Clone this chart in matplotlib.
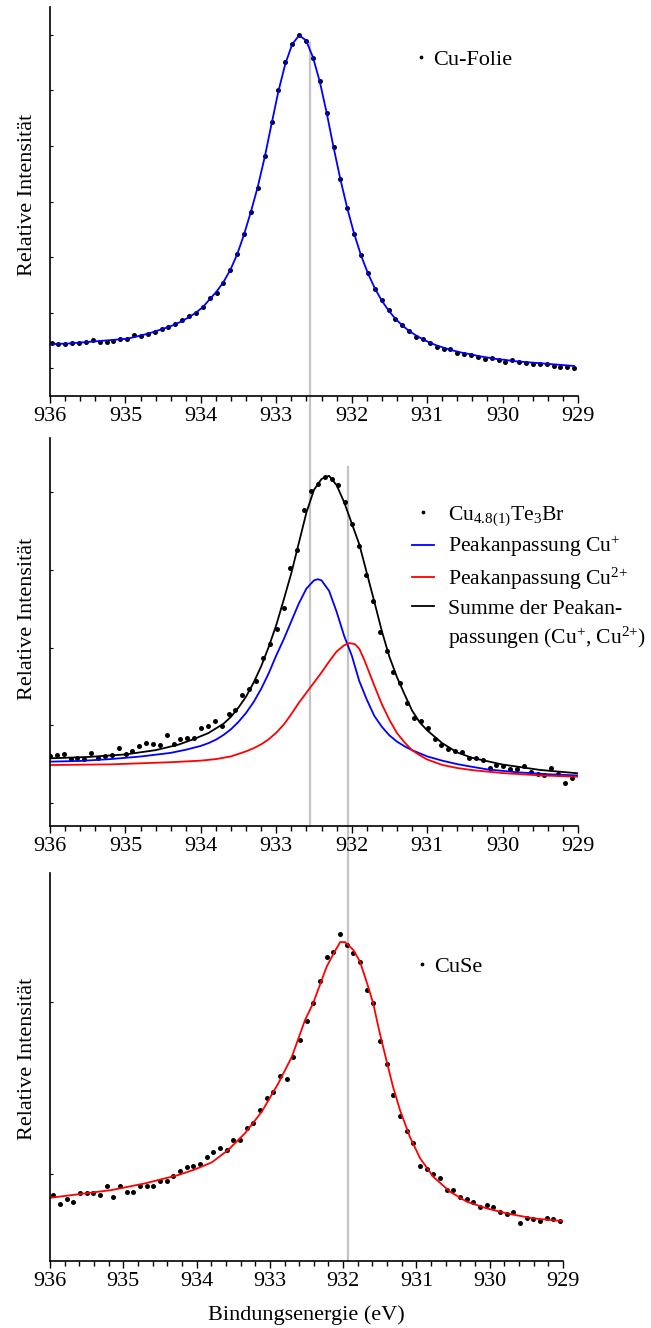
import numpy as np
import matplotlib
matplotlib.use("Agg")
import matplotlib.pyplot as plt
import matplotlib.transforms as mtransforms
from matplotlib.lines import Line2D
from matplotlib.ticker import MultipleLocator, FormatStrFormatter

plt.rcParams.update({
    "font.family": ["Liberation Serif", "DejaVu Serif"],
    "font.size": 16,
    "mathtext.fontset": "custom",
    "mathtext.rm": "Liberation Serif",
    "mathtext.it": "Liberation Serif:italic",
    "mathtext.bf": "Liberation Serif:bold",
})

# ---------------------------------------------------------------- data
# Cu 2p3/2 spectra, binding energy grid (eV) per sample
e_folie = np.linspace(935.98, 929.05, 77)
e_cute = np.linspace(936.00, 929.08, 77)
e_cuse = np.linspace(935.955, 929.04, 77)

# Cu foil: measured intensity and peak fit (a.u.)
i_folie = [1.45, 1.43, 1.43, 1.46, 1.45, 1.47, 1.50, 1.47, 1.47, 1.49,
           1.53, 1.53, 1.59, 1.58, 1.62, 1.65, 1.70, 1.74, 1.79, 1.86,
           1.94, 2.00, 2.10, 2.27, 2.36, 2.54, 2.76, 3.06, 3.41, 3.81,
           4.25, 4.81, 5.43, 6.01, 6.51, 6.83, 6.99, 6.89, 6.59, 6.16,
           5.60, 4.98, 4.40, 3.88, 3.41, 3.03, 2.71, 2.43, 2.23, 2.05,
           1.89, 1.78, 1.67, 1.57, 1.52, 1.46, 1.39, 1.35, 1.34, 1.27,
           1.26, 1.23, 1.20, 1.16, 1.19, 1.14, 1.11, 1.14, 1.11, 1.09,
           1.08, 1.08, 1.08, 1.04, 1.02, 1.02, 1.01]
fit_folie = [1.43, 1.44, 1.44, 1.45, 1.46, 1.47, 1.48, 1.49, 1.50, 1.51,
             1.52, 1.53, 1.56, 1.59, 1.62, 1.66, 1.70, 1.74, 1.79, 1.85,
             1.92, 2.00, 2.10, 2.24, 2.38, 2.55, 2.77, 3.05, 3.41, 3.82,
             4.27, 4.80, 5.40, 5.99, 6.48, 6.83, 6.99, 6.90, 6.60, 6.16,
             5.60, 4.98, 4.40, 3.88, 3.42, 3.03, 2.71, 2.44, 2.22, 2.04,
             1.89, 1.77, 1.67, 1.59, 1.52, 1.46, 1.41, 1.37, 1.33, 1.30,
             1.27, 1.25, 1.22, 1.20, 1.18, 1.16, 1.15, 1.13, 1.12, 1.11,
             1.10, 1.09, 1.08, 1.07, 1.06, 1.05, 1.04]

# Cu4.8(1)Te3Br: measured intensity
i_cute = [1.60, 1.62, 1.63, 1.57, 1.58, 1.56, 1.64, 1.58, 1.60, 1.62,
          1.71, 1.63, 1.67, 1.73, 1.77, 1.76, 1.75, 1.87, 1.76, 1.82,
          1.84, 1.83, 1.96, 1.99, 2.06, 1.99, 2.15, 2.20, 2.39, 2.47,
          2.57, 2.86, 3.05, 3.24, 3.51, 4.02, 4.26, 4.77, 5.01, 5.11,
          5.20, 5.17, 5.09, 4.87, 4.59, 4.31, 3.94, 3.60, 3.20, 2.96,
          2.69, 2.55, 2.29, 2.09, 2.05, 1.97, 1.82, 1.74, 1.69, 1.67,
          1.65, 1.58, 1.58, 1.55, 1.45, 1.49, 1.47, 1.44, 1.44, 1.47,
          1.40, 1.37, 1.36, 1.45, 1.37, 1.26, 1.32]

# Cu4.8(1)Te3Br: fitted components (energy, intensity)
e_fit_cu1 = [936.0, 935.6, 935.2, 934.8, 934.4, 934.2, 934.0, 933.9, 933.8,
             933.7, 933.6, 933.5, 933.4, 933.3, 933.2, 933.1, 933.0, 932.9,
             932.8, 932.7, 932.6, 932.5, 932.45, 932.4, 932.3, 932.2, 932.1,
             932.0, 931.9, 931.8, 931.7, 931.6, 931.5, 931.4, 931.3, 931.2,
             931.0, 930.8, 930.6, 930.4, 930.2, 929.8, 929.4, 929.0]
i_fit_cu1 = [1.532, 1.541, 1.565, 1.598, 1.645, 1.685, 1.735, 1.770, 1.815,
             1.875, 1.950, 2.045, 2.160, 2.300, 2.470, 2.670, 2.900, 3.110,
             3.340, 3.570, 3.760, 3.865, 3.880, 3.865, 3.730, 3.460, 3.150,
             2.900, 2.570, 2.330, 2.120, 1.980, 1.870, 1.790, 1.730, 1.680,
             1.600, 1.545, 1.500, 1.465, 1.432, 1.395, 1.370, 1.354]

e_fit_cu2 = [936.0, 935.2, 934.4, 934.0, 933.8, 933.6, 933.4, 933.3, 933.2,
             933.1, 933.0, 932.9, 932.8, 932.7, 932.6, 932.5, 932.4, 932.3,
             932.2, 932.1, 932.03, 931.96, 931.9, 931.85, 931.8, 931.7, 931.6,
             931.5, 931.4, 931.3, 931.2, 931.1, 931.0, 930.8, 930.6, 930.4,
             930.0, 929.5, 929.0]
i_fit_cu2 = [1.489, 1.497, 1.525, 1.545, 1.565, 1.600, 1.665, 1.705, 1.755,
             1.820, 1.905, 2.010, 2.145, 2.290, 2.420, 2.550, 2.680, 2.820,
             2.950, 3.030, 3.058, 3.045, 2.985, 2.880, 2.760, 2.510, 2.270,
             2.070, 1.900, 1.780, 1.680, 1.615, 1.560, 1.490, 1.450, 1.423,
             1.385, 1.355, 1.338]

e_fit_sum = [936.0, 935.5, 935.0, 934.6, 934.3, 934.1, 933.9, 933.7, 933.6,
             933.5, 933.4, 933.3, 933.2, 933.1, 933.0, 932.9, 932.8, 932.7,
             932.6, 932.5, 932.4, 932.3, 932.2, 932.1, 932.0, 931.9, 931.8,
             931.7, 931.6, 931.5, 931.4, 931.3, 931.2, 931.1, 931.0, 930.8,
             930.6, 930.4, 930.0, 929.5, 929.0]
i_fit_sum = [1.575, 1.592, 1.625, 1.680, 1.750, 1.820, 1.900, 2.020, 2.110,
             2.230, 2.370, 2.550, 2.760, 3.010, 3.290, 3.620, 3.960, 4.350,
             4.740, 5.030, 5.170, 5.210, 5.090, 4.870, 4.600, 4.330, 3.960,
             3.590, 3.210, 2.880, 2.620, 2.400, 2.190, 2.040, 1.935, 1.770,
             1.650, 1.580, 1.495, 1.425, 1.382]

# CuSe: measured intensity and fit
i_cuse = [0.88, 0.83, 0.86, 0.84, 0.89, 0.89, 0.89, 0.88, 0.93, 0.87,
          0.93, 0.90, 0.90, 0.93, 0.93, 0.93, 0.96, 0.96, 0.99, 1.02,
          1.04, 1.05, 1.06, 1.10, 1.13, 1.15, 1.14, 1.20, 1.20, 1.27,
          1.30, 1.37, 1.44, 1.48, 1.57, 1.55, 1.68, 1.78, 1.89, 1.99,
          2.12, 2.26, 2.29, 2.39, 2.33, 2.28, 2.23, 2.07, 1.99, 1.77,
          1.64, 1.46, 1.34, 1.25, 1.18, 1.05, 1.03, 1.00, 0.98, 0.91,
          0.91, 0.87, 0.86, 0.84, 0.81, 0.82, 0.81, 0.78, 0.77, 0.78,
          0.72, 0.75, 0.74, 0.73, 0.75, 0.74, 0.73]
e_fit_cuse = [936.00, 935.16, 934.70, 934.25, 934.02, 933.79, 933.57, 933.34,
              933.11, 932.885, 932.70, 932.52, 932.41, 932.225, 932.13, 932.04,
              931.975, 931.86, 931.77, 931.68, 931.59, 931.50, 931.41, 931.32,
              931.225, 931.09, 930.95, 930.77, 930.54, 930.31, 930.04, 929.77,
              929.41, 929.00]
i_fit_cuse = [0.864, 0.909, 0.948, 0.996, 1.029, 1.070, 1.141, 1.238,
              1.363, 1.527, 1.681, 1.894, 1.991, 2.203, 2.280, 2.346,
              2.346, 2.300, 2.232, 2.116, 1.991, 1.817, 1.662, 1.508,
              1.373, 1.218, 1.093, 0.986, 0.899, 0.841, 0.803, 0.774,
              0.745, 0.729]

# reference binding energies (Cu+ and Cu2+ positions)
e_ref_cu1 = 932.55
e_ref_cu2 = 932.05

label_folie = "Cu-Folie"
label_cute = r"Cu$_\mathregular{4.8(1)}$Te$_\mathregular{3}$Br"
label_cu1 = r"Peakanpassung Cu$^{+}$"
label_cu2 = r"Peakanpassung Cu$^{2{+}}$"
label_sum = ["Summe der Peakan-", r"passungen (Cu$^{+}$, Cu$^{2{+}}$)"]
label_cuse = "CuSe"
ylabel = "Relative Intensität"
xlabel = "Bindungsenergie (eV)"

# ---------------------------------------------------------------- figure
W, H = 651, 1328
fig = plt.figure(figsize=(W / 100, H / 100), dpi=100)

ax1 = fig.add_axes([50 / W, 1 - 396 / H, 528 / W, 389 / H])
ax2 = fig.add_axes([50 / W, 1 - 826 / H, 528 / W, 388 / H])
ax3 = fig.add_axes([50 / W, 1 - 1261 / H, 513 / W, 388 / H])


def style(ax, ylim, yticks, label_x, label_y):
    ax.set_facecolor("none")
    ax.set_xlim(936, 929)
    ax.set_ylim(*ylim)
    ax.xaxis.set_major_locator(MultipleLocator(1))
    ax.xaxis.set_minor_locator(MultipleLocator(0.2))
    ax.xaxis.set_major_formatter(FormatStrFormatter("%d"))
    ax.set_yticks(yticks)
    ax.tick_params(axis="x", which="major", direction="out", length=5.3,
                   width=1.0, pad=2.9, labelsize=16)
    ax.tick_params(axis="x", which="minor", direction="out", length=3.5,
                   width=1.0)
    ax.tick_params(axis="y", which="major", direction="in", length=2.5,
                   width=0.8, labelleft=False)
    for s in ("top", "right"):
        ax.spines[s].set_visible(False)
    for s in ("left", "bottom"):
        ax.spines[s].set_linewidth(1.2)
    ax.set_ylabel(ylabel, fontsize=16)
    ax.yaxis.set_label_coords(label_x, label_y)


style(ax1, (0.5, 7.5), [1, 2, 3, 4, 5, 6, 7], -0.024, 0.517)
style(ax2, (0.704, 5.697), [1, 2, 3, 4, 5], -0.024, 0.533)
style(ax3, (0.498, 2.746), [1, 2], -0.0248, 0.521)

ms = 3.6
lw = 1.3

# Cu foil
pts1, = ax1.plot(e_folie, i_folie, "o", ms=ms, color="black", mew=0,
                 label=label_folie)
ax1.plot(e_folie, fit_folie, color="#0000ff", lw=lw)
ax1.legend(handles=[pts1], loc="upper left", bbox_to_anchor=(0.690, 0.892),
           frameon=False, borderpad=0, borderaxespad=0, handlelength=0.6,
           handletextpad=0.25, numpoints=1, markerscale=0.75, fontsize=16)

# Cu4.8(1)Te3Br
pts2, = ax2.plot(e_cute, i_cute, "o", ms=ms, color="black", mew=0)
l_cu1, = ax2.plot(e_fit_cu1, i_fit_cu1, color="#0000ff", lw=lw)
l_cu2, = ax2.plot(e_fit_cu2, i_fit_cu2, color="#ff0000", lw=lw)
l_sum, = ax2.plot(e_fit_sum, i_fit_sum, color="black", lw=lw)
blank = Line2D([], [], linestyle="none")
ax2.legend(handles=[pts2, l_cu1, l_cu2, l_sum, blank],
           labels=[label_cute, label_cu1, label_cu2, label_sum[0], label_sum[1]],
           loc="upper left", bbox_to_anchor=(0.686, 0.830), frameon=False,
           borderpad=0, borderaxespad=0, handlelength=1.0,
           handletextpad=0.65, labelspacing=0.3, numpoints=1,
           markerscale=0.75, fontsize=15.6)

# CuSe
pts3, = ax3.plot(e_cuse, i_cuse, "o", ms=ms, color="black", mew=0,
                 label=label_cuse)
ax3.plot(e_fit_cuse, i_fit_cuse, color="#ff0000", lw=lw)
ax3.legend(handles=[pts3], loc="upper left", bbox_to_anchor=(0.7115, 0.786),
           frameon=False, borderpad=0, borderaxespad=0, handlelength=0.6,
           handletextpad=0.25, numpoints=1, markerscale=0.75, fontsize=16)

ax3.set_xlabel(xlabel, fontsize=16)
ax3.xaxis.set_label_coords(0.5, -0.114)

# vertical reference lines running across the stacked panels
trans = mtransforms.blended_transform_factory(ax2.transData, fig.transFigure)
fig.add_artist(Line2D([e_ref_cu1, e_ref_cu1], [1 - 43 / H, 1 - 826 / H],
                      transform=trans, color="#c4c4c4", lw=1.6, zorder=-1))
fig.add_artist(Line2D([e_ref_cu2, e_ref_cu2], [1 - 467 / H, 1 - 1261 / H],
                      transform=trans, color="#c4c4c4", lw=1.6, zorder=-1))

fig.savefig("out.png", dpi=100, facecolor="white")
